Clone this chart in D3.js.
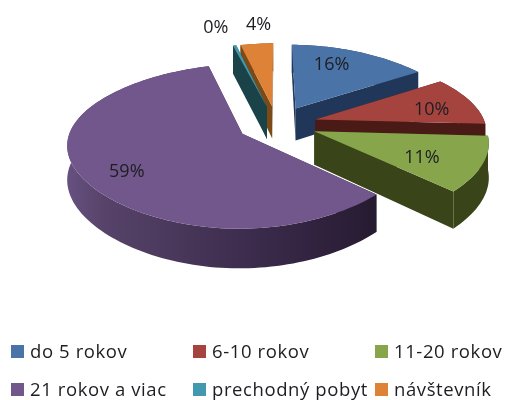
<!DOCTYPE html>
<html><head><meta charset="utf-8">
<script src="https://cdn.jsdelivr.net/npm/d3@7"></script>
<style>html,body{margin:0;padding:0;background:#fff;overflow:hidden}svg{display:block;filter:blur(.55px)}text{font-family:"Open Sans",Lato,sans-serif;fill:#1d1d22}</style>
</head><body><svg id="c" width="507" height="400"></svg>
<script>
const categories=["do 5 rokov","6-10 rokov","11-20 rokov","21 rokov a viac","prechodný pobyt","návštevník"];
const values=[16,10,11,59,0.4,4];
const topColors=["#4a74a8","#a5443f","#87a64b","#72578c","#4198af","#dd8236"];
const wallColors=["#20375a","#4a1a16","#3a4419","#46345a","#1a4349","#7b4a17"];
const labelNudge=[[-6,-7],[19,2],[5,7],[-19,11],[-29,-39],[-3,-40]];

const R=170,cx=277,cy=124,kR=77.5,persp=.15,explode=.235,depth=33,pinch=.06;
const svg=d3.select("#c");
const color=d3.scaleOrdinal(d3.range(6),topColors);
const wall=d3.scaleOrdinal(d3.range(6),wallColors);
const arcs=d3.pie().sort(null).startAngle(0).endAngle(2*Math.PI)(values);

function proj(a,r,mid,z){
  const X=Math.sin(mid)*explode+Math.sin(a)*r, Y=-Math.cos(mid)*explode-Math.cos(a)*r;
  const w=1/(1-persp*Y);
  return [cx+R*X*w*(1-pinch*Y*Y), cy+kR*Y*w+(z?depth*w:0)];
}
const line=d3.line();
function rimPts(d,z){
  const n=Math.max(2,Math.ceil((d.endAngle-d.startAngle)/0.03));
  return d3.range(n+1).map(i=>{const a=d.startAngle+(d.endAngle-d.startAngle)*i/n;return proj(a,1,(d.startAngle+d.endAngle)/2,z);});
}
const grad=svg.append("defs").append("linearGradient").attr("id","purpleRim").attr("gradientUnits","userSpaceOnUse")
  .attr("x1",68).attr("x2",372).attr("y1",0).attr("y2",0);
[["0","#665080"],["0.12","#574369"],["0.55","#3f2e50"],["1","#271b32"]].forEach(s=>grad.append("stop").attr("offset",s[0]).attr("stop-color",s[1]));

function drawWalls(i){
  const d=arcs[i],mid=(d.startAngle+d.endAngle)/2;
  const g=svg.append("g");
  const c0=proj(0,0,mid,false),c1=proj(0,0,mid,true);
  const wallFill=i===3?"url(#purpleRim)":wall(i);
  [d.startAngle,d.endAngle].forEach(a=>{
    const p0=proj(a,1,mid,false),p1=proj(a,1,mid,true);
    g.append("path").attr("d",line([c0,p0,p1,c1])+"Z").attr("fill",wallFill);
  });
  g.append("path").attr("d",line(rimPts(d,false).concat(rimPts(d,true).reverse()))+"Z").attr("fill",wallFill);
}
function drawTop(i){
  const d=arcs[i],mid=(d.startAngle+d.endAngle)/2;
  svg.append("path").attr("d",line([proj(0,0,mid,false)].concat(rimPts(d,false)))+"Z").attr("fill",color(i));
}
drawWalls(5);drawWalls(4);drawTop(4);drawTop(5);
[0,1,2,3].forEach(i=>{drawWalls(i);drawTop(i);});

arcs.forEach((d,i)=>{
  const mid=(d.startAngle+d.endAngle)/2,p=proj(mid,.62,mid,false);
  svg.append("text").attr("x",p[0]+labelNudge[i][0]).attr("y",p[1]+labelNudge[i][1])
    .attr("text-anchor","middle").attr("dominant-baseline","middle").attr("font-size",18)
    .text(Math.round(d.data)+"%");
});

const colX=d3.scaleBand().domain([0,1,2]).range([11,557]);
const rowY=d3.scalePoint().domain([0,1]).range([351,389]);
categories.forEach((c,i)=>{
  const x=colX(i%3),y=rowY(Math.floor(i/3));
  svg.append("rect").attr("x",x).attr("y",y-6).attr("width",13).attr("height",13).attr("fill",topColors[i]);
  svg.append("text").attr("x",x+19).attr("y",y+7).attr("font-size",18.5).attr("letter-spacing",.6).text(c);
});
</script></body></html>
